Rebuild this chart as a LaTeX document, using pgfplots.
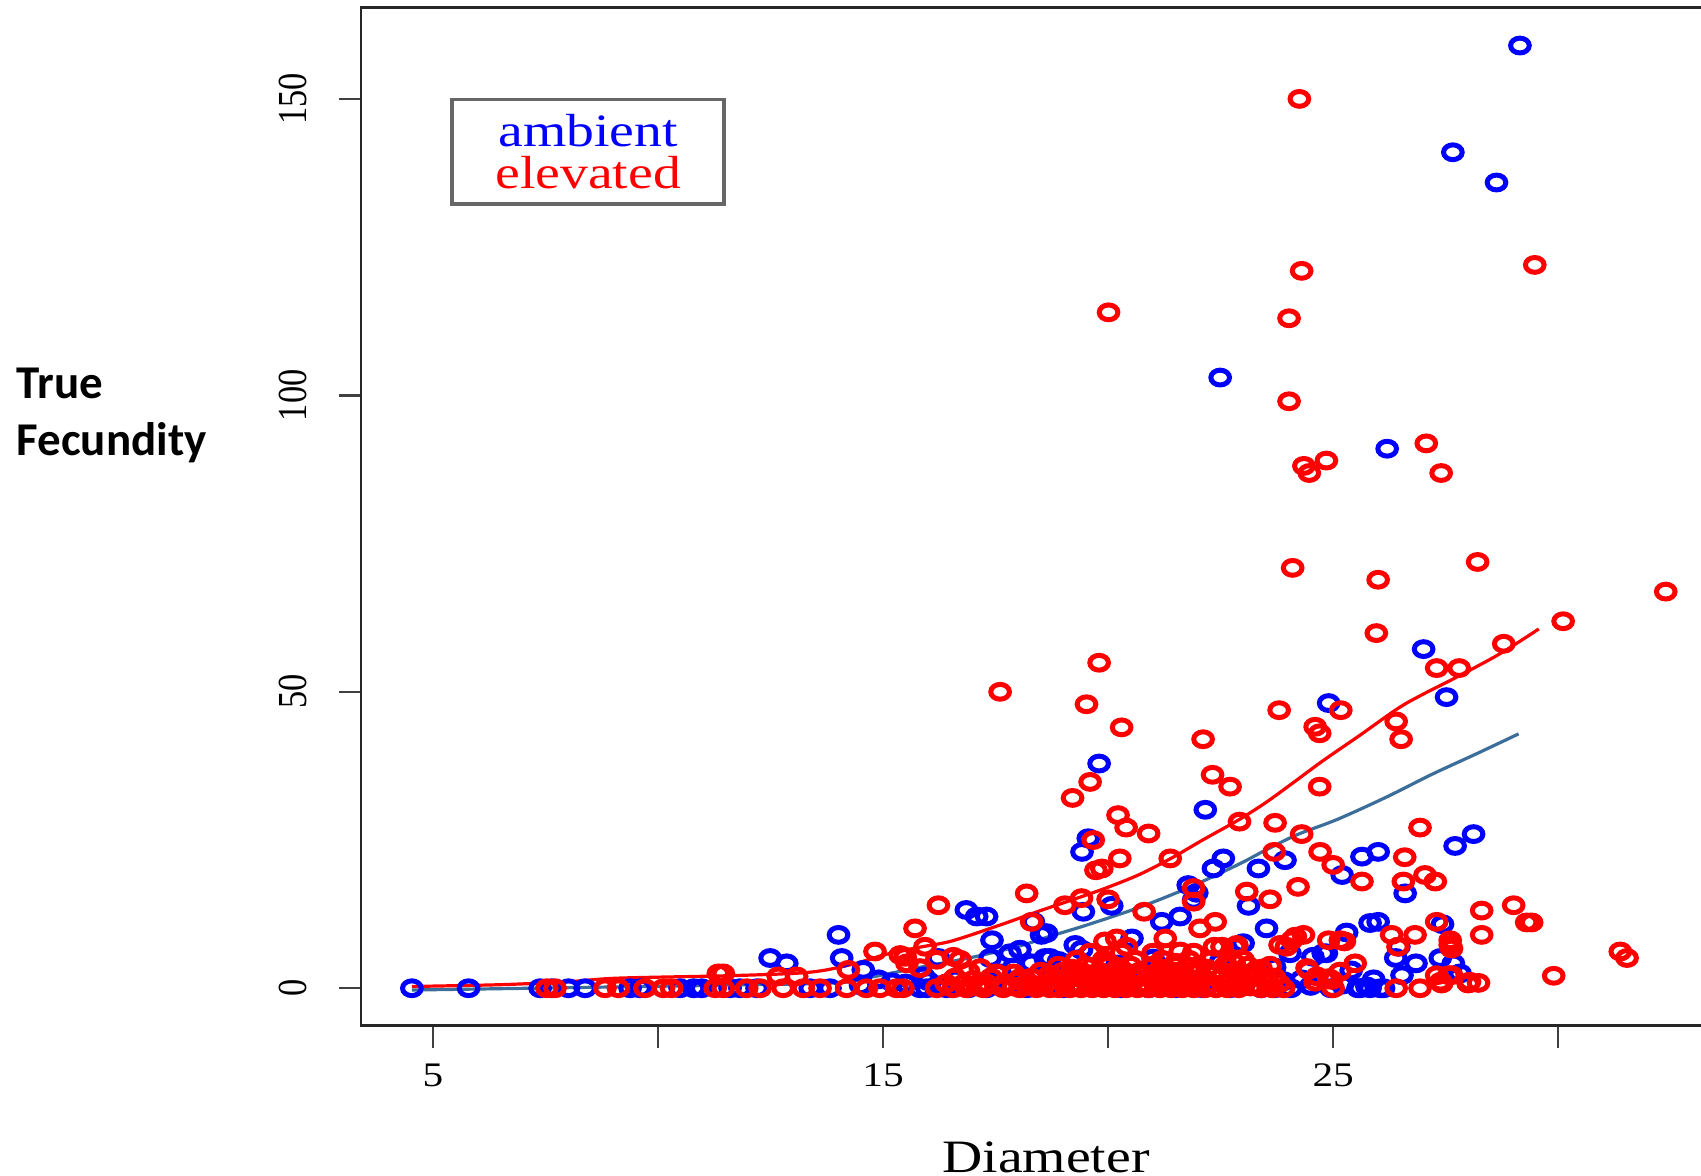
\documentclass[border=0pt]{standalone}
\usepackage{pgfplots}
\pgfplotsset{compat=1.18}
\usepackage{graphicx}
\usepackage{fontspec}
\setmainfont{Liberation Serif}
\newfontfamily\calib{Carlito}
\definecolor{ambline}{RGB}{60,110,155}
% the source image is stretched sideways, so text is widened too
\newcommand{\hs}[1]{\scalebox{1.2}[1]{#1}}

\begin{document}
\begin{tikzpicture}
\begin{axis}[
  scale only axis, width=342.5pt, height=254.5pt,
  xmin=3.4, xmax=33.84, ymin=-6.3, ymax=165.4,
  axis line style={line width=0.6pt, black!85},
  tick align=outside, tick pos=left, major tick length=5.6pt,
  tick style={line width=0.6pt, black!75},
  xtick={5,10,15,20,25,30},
  xticklabels={\hs{5},,\hs{15},,\hs{25},},
  ytick={0,50,100,150},
  yticklabels={\hs{\rotatebox{90}{0}},\hs{\rotatebox{90}{50}},\hs{\rotatebox{90}{100}},\hs{\rotatebox{90}{150}}},
  xticklabel style={font=\fontsize{8.6}{9}\selectfont, anchor=north, inner sep=0pt, yshift=-3.8pt},
  yticklabel style={font=\fontsize{8.6}{9}\selectfont, anchor=east, inner sep=0pt, xshift=-7.7pt},
  xlabel={\hs{Diameter}},
  xlabel style={font=\fontsize{11.6}{12}\selectfont, at={(axis description cs:0.5,0)}, anchor=base, yshift=-36.6pt, inner sep=0pt},
  every axis plot/.append style={line width=1.25pt},
]
% ambient
\addplot[only marks, blue, mark=o, mark size=1.85pt, mark options={line width=1.25pt, xscale=1.26}] coordinates {
(4.53,0) (5.79,0) (7.38,0) (7.64,0) (8.01,0) (8.38,0) (9.38,0) (9.6,0) (10.49,0) (10.79,0)
(10.97,0) (11.6,0) (11.82,0) (12.2,0) (13.38,0) (13.82,0) (14.5,0.5) (15.82,0) (15.97,0) (16.41,0)
(16.9,0) (17.3,0) (17.8,0.5) (18.2,0) (19.0,0) (19.6,0.5) (20.3,0) (20.9,0) (21.5,0) (22.1,0)
(22.7,0) (23.0,0.5) (23.4,0) (23.7,0) (24.06,0) (24.95,0) (25.55,0) (25.75,0.3) (26.05,0) (25.6,0)
(25.82,0) (26.12,0) (12.49,5.1) (12.86,4.2) (14.01,9.0) (14.08,5.1) (14.56,3.1) (14.9,1.5) (15.2,1.0)
(16.23,5.1) (16.85,13.2) (17.08,12.1) (17.3,12.1) (17.42,8.1) (17.38,5.1) (17.82,5.9) (18.04,6.5)
(18.34,11.2) (18.52,9.0) (18.6,5.1) (18.71,5.1) (18.63,9.3) (19.27,7.3) (19.41,6.5) (19.45,12.9)
(19.42,23.0) (19.56,25.3) (19.8,37.9) (20.08,13.9) (20.53,8.4) (21.19,11.2) (21.6,12.1) (21.78,17.4)
(21.9,14.9) (21.97,16.1) (22.16,30.1) (22.34,20.2) (22.56,21.9) (22.49,103.0) (23.0,7.6) (23.12,13.9)
(23.34,20.2) (23.52,10.1) (23.93,21.6) (24.04,5.9) (24.55,5.3) (24.78,5.9) (24.85,5.9) (24.9,48.1)
(25.2,19.1) (25.3,9.4) (25.64,22.2) (25.82,11.0) (26.0,23.0) (26.0,11.2) (26.2,91.0) (26.39,5.1)
(26.46,7.0) (26.53,2.2) (26.6,16.0) (26.84,4.2) (27.01,57.2) (27.38,5.1) (27.43,10.8) (27.52,49.1)
(27.67,4.2) (27.71,24.0) (27.82,2.5) (28.12,26.0) (27.66,141.0) (28.63,135.9) (29.15,159.0)
(20.0,2.0) (20.8,3.0) (21.2,1.5) (22.0,3.0) (22.5,4.5) (23.2,2.5) (23.7,3.5) (21.0,5.0) (20.2,4.0)
(19.2,3.0) (18.8,2.0) (17.6,2.5) (16.6,1.5) (15.9,2.0) (16.2,0.5) (24.3,1.5) (25.4,3.0) (25.9,1.5)
(17.9,3.5) (18.3,4.2) (18.9,4.6) (17.5,1.0) (16.0,1.2) (15.5,0.8) (24.5,0.4) (23.9,1.2) (25.2,0.6)
};
% elevated
\addplot[only marks, red, mark=o, mark size=1.85pt, mark options={line width=1.25pt, xscale=1.26}] coordinates {
(24.25,150.0) (29.48,122.0) (24.30,121.0) (20.01,114.0) (24.02,113.0) (24.02,99.0) (27.07,91.9)
(24.85,89.0) (24.35,88.1) (24.47,86.9) (27.4,86.9) (24.1,70.9) (26.0,68.9) (28.21,71.9) (32.39,66.9)
(30.11,61.9) (25.96,59.9) (28.79,58.1) (27.3,54.0) (27.8,54.0) (19.8,54.9) (17.6,50.0) (19.52,47.9)
(23.8,46.9) (25.17,46.9) (20.3,44.0) (24.6,44.1) (24.7,43.0) (26.4,45.0) (26.51,42.0) (22.11,42.0)
(22.32,36.0) (22.71,34.0) (19.6,34.8) (19.21,32.1) (24.7,34.0) (20.22,29.2) (20.4,27.1) (20.9,26.1)
(22.92,28.1) (23.71,27.9) (24.3,26.0) (26.93,27.1) (19.67,25.0) (20.26,21.9) (19.86,20.2) (19.73,19.9)
(21.38,21.9) (23.69,23.0) (24.71,23.0) (25.0,20.8) (26.59,22.1) (25.64,18.0) (26.56,18.0) (27.04,19.1)
(27.27,18.0) (24.22,17.1) (23.08,16.3) (23.6,15.0) (18.19,16.0) (16.23,14.0) (19.04,14.0) (19.41,15.2)
(20.0,15.0) (20.8,12.9) (21.9,16.9) (21.9,14.6) (22.04,10.1) (22.38,11.2) (18.3,11.2) (15.71,10.1)
(28.3,13.1) (29.01,14.0) (29.3,11.1) (29.41,11.1) (28.3,9.0) (26.3,9.0) (26.82,9.0) (26.44,7.0)
(27.3,11.2) (27.6,8.1) (27.6,7.3) (27.63,6.7) (31.38,6.2) (31.53,5.1) (29.9,2.1)
(24.08,8.1) (24.34,9.0) (24.16,8.7) (23.96,7.0) (23.82,7.3) (24.9,8.1) (25.16,8.1) (25.25,7.9)
(25.49,4.2) (24.42,3.4) (24.64,2.0) (24.97,1.4) (24.6,1.1) (24.9,1.7) (25.15,2.8) (24.45,3.1)
(22.36,7.0) (22.53,7.0) (22.81,7.0) (22.86,7.3) (19.93,7.9) (20.19,8.4) (20.41,7.0) (21.27,8.4)
(21.6,6.2) (15.93,7.0) (15.49,5.3) (15.38,5.6) (14.82,6.2) (14.23,3.1) (12.67,2.0) (13.08,2.0)
(11.45,2.5) (11.34,2.5) (15.53,4.2) (15.82,3.4) (16.19,4.8) (16.56,5.3) (16.71,4.8) (17.16,3.4)
(17.52,2.5) (17.9,2.5) (18.04,1.7) (17.0,1.4) (27.3,2.2) (27.63,2.2) (27.41,0.8) (28.0,0.8)
(28.23,0.9) (27.57,2.2) (27.39,1.1) (28.03,1.1) (26.4,0) (26.93,0) (25.0,0) (23.56,0.8)
(23.36,0.3) (23.16,0.3)
(7.53,0) (7.71,0) (8.82,0) (9.12,0) (9.71,0) (10.12,0) (10.3,0) (11.27,0) (11.45,0) (11.97,0)
(12.27,0) (12.78,0) (13.23,0) (13.6,0) (14.19,0) (14.63,0) (14.93,0) (15.3,0) (15.44,0) (16.19,0)
(16.56,0) (16.85,0) (17.23,0) (17.67,0) (18.04,0) (18.41,0) (18.71,0)
(18.9,0) (19.15,0) (19.4,0) (19.65,0) (19.9,0) (20.15,0) (20.4,0) (20.65,0) (20.9,0) (21.15,0)
(21.4,0) (21.65,0) (21.9,0) (22.15,0) (22.4,0) (22.65,0) (22.9,0) (23.4,0) (23.65,0) (23.9,0)
(16.4,0.8) (16.8,0.8) (17.3,0.8) (17.7,0.8) (18.2,0.8) (18.6,0.8) (19.0,0.8) (19.3,0.8) (19.6,0.8)
(19.9,0.8) (20.2,0.8) (20.5,0.8) (20.8,0.8) (21.1,0.8) (21.4,0.8) (21.7,0.8) (22.0,0.8) (22.3,0.8)
(22.6,0.8) (23.0,0.8) (23.8,0.8)
(16.6,1.8) (17.4,1.8) (18.3,1.8) (18.8,1.8) (19.2,1.8) (19.5,1.8) (19.9,1.8) (20.3,1.8) (20.6,1.8)
(21.0,1.8) (21.3,1.8) (21.7,1.8) (22.1,1.8) (22.5,1.8) (22.9,1.8) (23.3,1.8) (23.7,1.8)
(16.9,2.8) (18.5,2.8) (19.0,2.8) (19.4,2.8) (19.8,2.8) (20.2,2.8) (20.7,2.8) (21.1,2.8) (21.5,2.8)
(21.9,2.8) (22.4,2.8) (22.8,2.8) (23.3,2.8)
(18.9,3.8) (19.5,3.8) (20.0,3.8) (20.5,3.8) (21.0,3.8) (21.5,3.8) (22.0,3.8) (22.6,3.8) (23.1,3.8)
(23.6,3.8) (19.3,4.8) (19.9,4.8) (20.6,4.8) (21.2,4.8) (21.8,4.8) (22.3,4.8) (23.0,4.8)
(19.6,6.0) (20.3,6.0) (21.0,6.0) (21.9,6.0)
(17.1,0.3) (17.9,0.3) (18.5,0.3) (19.3,0.3) (20.0,0.3) (20.7,0.3) (21.3,0.3) (22.0,0.3) (22.8,0.3)
(18.0,1.3) (18.9,1.3) (19.7,1.3) (20.4,1.3) (21.2,1.3) (21.9,1.3) (22.7,1.3) (23.5,1.3)
(18.7,2.3) (19.6,2.3) (20.5,2.3) (21.4,2.3) (22.3,2.3) (23.1,2.3)
(19.2,3.3) (20.2,3.3) (21.2,3.3) (22.2,3.3) (23.4,3.3) (20.0,4.3) (21.5,4.3) (22.8,4.3)
};
% smooth fits
\addplot[ambline, line width=0.8pt, smooth] coordinates {
(4.53,-0.3) (8.0,0.1) (11.35,0.5) (13.95,0.9) (14.69,1.8) (15.8,3.5) (16.91,5.1) (18.02,7.1)
(18.68,8.7) (19.5,10.6) (20.68,13.6) (21.8,17.0) (22.9,20.9) (23.5,23.3) (24.2,25.9) (25.1,28.5)
(26.2,32.3) (27.2,36.1) (28.2,39.6) (29.12,42.9)
};
\addplot[red, line width=0.8pt, smooth] coordinates {
(4.53,0.3) (6.5,0.6) (8.0,1.1) (9.1,1.7) (11.5,2.1) (13.0,2.5) (13.67,3.0) (14.4,4.2) (15.06,5.7)
(15.8,6.9) (16.54,8.0) (17.65,10.8) (18.46,13.0) (19.2,14.9) (19.95,16.9) (20.7,19.2) (21.42,22.0)
(22.1,25.0) (22.9,28.4) (23.5,31.3) (24.1,34.6) (24.76,38.3) (25.6,42.7) (26.46,47.3) (27.05,49.8)
(27.65,52.1) (28.68,56.3) (29.57,60.6)
};
\node[draw=black!60, line width=0.8pt, minimum width=68pt, minimum height=26.2pt, inner sep=0pt,
  align=center, font=\fontsize{11.6}{10.4}\selectfont] at (axis cs:8.445,141.1)
  {\textcolor{blue}{\hs{ambient}}\\\textcolor{red}{\hs{elevated}}};
\end{axis}
\node[anchor=base west, inner sep=0pt, font=\calib\bfseries\fontsize{11.75}{14}\selectfont] at (-86.25pt,156.7pt) {True};
\node[anchor=base west, inner sep=0pt, font=\calib\bfseries\fontsize{11.75}{14}\selectfont] at (-86.25pt,142.55pt) {Fecundity};
\pgfresetboundingbox
\path[use as bounding box] (-90.25pt,-37.6pt) rectangle (335pt,256.4pt);
\end{tikzpicture}
\end{document}
